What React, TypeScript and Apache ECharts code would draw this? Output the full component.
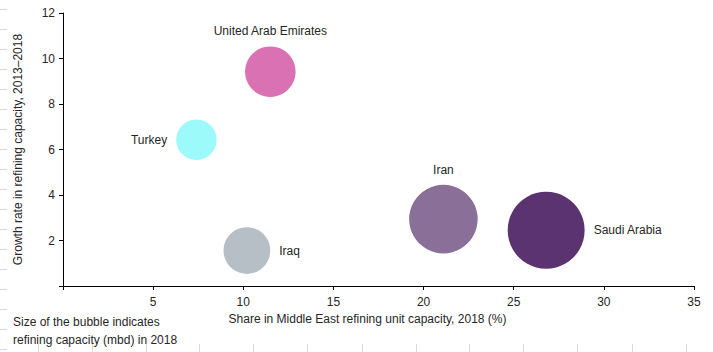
import React, { useEffect, useRef } from "react";
import * as echarts from "echarts";

const countries = ["United Arab Emirates", "Turkey", "Iraq", "Iran", "Saudi Arabia"];
const shareX = [11.5, 7.4, 10.2, 21.1, 26.8];
const growthY = [9.42, 6.43, 1.56, 2.94, 2.45];
const capacityMbd = [1.25, 0.8, 1.07, 2.3, 2.9];
const colors = ["#DA71B3", "#9CFAFA", "#B6BEC6", "#8A7098", "#5A3370"];
const labelPos = ["top", "left", "right", "top", "right"];
const xTicks = [0, 5, 10, 15, 20, 25, 30, 35];
const yTicks = [0, 2, 4, 6, 8, 10, 12];

const FONT = "'Liberation Sans', Arial, sans-serif";

export default function App() {
  const ref = useRef<HTMLDivElement>(null);
  useEffect(() => {
    if (!ref.current) return;
    const chart = echarts.init(ref.current, undefined, { renderer: "svg" });
    const k = 45.2;
    const data = countries.map((name, i) => ({
      name,
      value: [shareX[i], growthY[i], capacityMbd[i]],
      symbolSize: k * Math.sqrt(capacityMbd[i]),
      itemStyle: { color: colors[i], opacity: 1 },
      label: {
        show: true,
        position: labelPos[i],
        distance: 9,
        formatter: name,
        color: "#262626",
        fontSize: 12,
        fontFamily: FONT,
      },
    }));

    // worksheet gridline stubs at edges
    const gridStubs: any[] = [];
    for (let y = 9; y < 352; y += 20) {
      gridStubs.push({
        type: "line",
        shape: { x1: 0, y1: y + 0.5, x2: 7, y2: y + 0.5 },
        style: { stroke: "#D9D9D9", lineWidth: 1 },
        silent: true,
      });
    }
    const cols = [38, 92, 146, 199, 253, 307, 362, 416, 469, 523, 577, 632, 686];
    cols.forEach((x) =>
      gridStubs.push({
        type: "line",
        shape: { x1: x + 0.5, y1: 344, x2: x + 0.5, y2: 352 },
        style: { stroke: "#D9D9D9", lineWidth: 1 },
        silent: true,
      })
    );

    chart.setOption({
      animation: false,
      textStyle: { fontFamily: FONT },
      grid: { left: 63, right: 19, top: 13, bottom: 66, containLabel: false },
      xAxis: {
        type: "value",
        min: xTicks[0],
        max: xTicks[xTicks.length - 1],
        interval: 5,
        name: "Share in Middle East refining unit capacity, 2018 (%)",
        nameLocation: "middle",
        nameGap: 27,
        nameTextStyle: { color: "#262626", fontSize: 12, fontFamily: FONT, padding: [0, 22, 0, 0] },
        axisLine: { show: true, lineStyle: { color: "#000", width: 1 } },
        axisTick: { show: true, inside: false, length: 4, lineStyle: { color: "#000" } },
        axisLabel: {
          color: "#262626",
          fontSize: 12,
          fontFamily: FONT,
          margin: 10,
          formatter: (v: number) => (v === 0 ? "" : String(v)),
        },
        splitLine: { show: false },
      },
      yAxis: {
        type: "value",
        min: yTicks[0],
        max: yTicks[yTicks.length - 1],
        interval: 2,
        name: "Growth rate in refining capacity, 2013\u20132018",
        nameLocation: "middle",
        nameGap: 39,
        nameTextStyle: { color: "#262626", fontSize: 12, fontFamily: FONT },
        axisLine: { show: true, lineStyle: { color: "#000", width: 1 } },
        axisTick: { show: true, inside: false, length: 4, lineStyle: { color: "#000" } },
        axisLabel: {
          color: "#262626",
          fontSize: 12,
          fontFamily: FONT,
          margin: 8,
          formatter: (v: number) => (v === 0 ? "" : String(v)),
        },
        splitLine: { show: false },
      },
      graphic: [
        ...gridStubs,
        {
          type: "text",
          left: 13,
          top: 313,
          style: {
            text: "Size of the bubble indicates\nrefining capacity (mbd) in 2018",
            fill: "#262626",
            fontSize: 12,
            fontFamily: FONT,
            lineHeight: 18,
          },
        },
      ],
      series: [
        {
          type: "scatter",
          data,
          emphasis: { disabled: true },
        },
      ],
    });
    return () => chart.dispose();
  }, []);
  return (
    <div
      ref={ref}
      style={{ position: "fixed", left: 0, top: 0, width: 713, height: 352, background: "#fff" }}
    />
  );
}
